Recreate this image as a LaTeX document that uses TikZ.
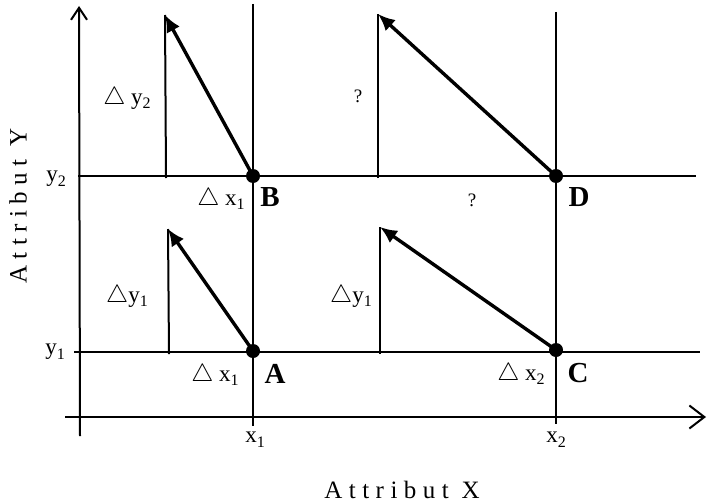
\documentclass[tikz,border=0pt]{standalone}
\usepackage{fontspec}
\setmainfont{Liberation Serif}
\usepackage{tikz}
\usetikzlibrary{arrows.meta, positioning}

\newcommand{\subidx}[1]{\raisebox{-0.45ex}{\fontsize{16}{16}\selectfont #1}}

\begin{document}
\begin{tikzpicture}[
    x=1pt, y=-1pt,
    grid/.style={line width=2pt},
    axis/.style={line width=2pt},
    point/.style={circle, fill=black, inner sep=0pt, minimum size=14pt},
    arrow/.style={-{Latex[length=17pt,width=15pt]}, line width=3.4pt, shorten <=-3pt},
    lbl/.style={font=\fontsize{23}{26}\selectfont, inner sep=0pt},
    qmark/.style={font=\fontsize{19}{22}\selectfont, inner sep=0pt},
    pname/.style={font=\fontsize{29}{32}\selectfont\bfseries, inner sep=0pt},
    atitle/.style={font=\fontsize{25}{28}\selectfont\addfontfeature{LetterSpace=26}, inner sep=0pt}
]
\useasboundingbox (0,0) rectangle (708,503);

% points
\node[point] (A) at (253,351) {};
\node[point] (B) at (253,176) {};
\node[point] (C) at (556,350) {};
\node[point] (D) at (556,176) {};

% axes and grid
\coordinate (xaxisL) at (65,417);
\coordinate (xaxisR) at (706,417);
\coordinate (yaxisB) at (80,436);
\coordinate (yaxisT) at (79,6);
\draw[axis, -{Straight Barb[length=15pt,width=23pt]}] (xaxisL) -- (xaxisR);
\draw[axis, -{Straight Barb[length=12pt,width=16pt]}] (yaxisB) -- (yaxisT);

\coordinate (y2L) at (78,176);
\coordinate (y2R) at (696,176);
\coordinate (y1L) at (74,352);
\coordinate (y1R) at (700,352);
\coordinate (x1T) at (253,4);
\coordinate (x1B) at (253,426);
\coordinate (x2T) at (556,12);
\coordinate (x2B) at (556,424);
\draw[grid] (y2L) -- (y2R);
\draw[grid] (y1L) -- (y1R);
\draw[grid] (x1T) -- (x1B);
\draw[grid] (x2T) -- (x2B);

% small verticals and vectors
\coordinate (baseB) at (166,178);
\coordinate (tipB) at (165,15);
\coordinate (baseA) at (169,354);
\coordinate (tipA) at (168,229);
\coordinate (baseD) at (378,178);
\coordinate (tipD) at (378,14);
\coordinate (baseC) at (380,354);
\coordinate (tipC) at (380,227);
\draw[grid] (baseB) -- (tipB);
\draw[grid] (baseA) -- (tipA);
\draw[grid] (baseD) -- (tipD);
\draw[grid] (baseC) -- (tipC);
\draw[arrow] (B) -- (tipB);
\draw[arrow] (A) -- (tipA);
\draw[arrow] (D) -- (tipD);
\draw[arrow] (C) -- (tipC);

% labels
\node[lbl] (dy2) at (127,98) {$\triangle$ y\subidx{2}};
\node[qmark] (q1) at (358,96) {?};
\node[lbl] (dx1top) at (221,199) {$\triangle$ x\subidx{1}};
\node[pname] (lB) at (270,197) {B};
\node[qmark] (q2) at (472,200) {?};
\node[pname] (lD) at (579,197) {D};
\node[lbl] (dy1L) at (127,296) {$\triangle$y\subidx{1}};
\node[lbl] (dy1R) at (351,296) {$\triangle$y\subidx{1}};
\node[lbl] (dx1bot) at (215,375) {$\triangle$ x\subidx{1}};
\node[pname] (lA) at (275,374) {A};
\node[lbl] (dx2) at (521,374) {$\triangle$ x\subidx{2}};
\node[pname] (lC) at (578,373) {C};

\node[lbl] (ly2) at (56,179) {y\subidx{2}};
\node[lbl] (ly1) at (55,352) {y\subidx{1}};
\node[lbl] (lx1) at (255,440) {x\subidx{1}};
\node[lbl] (lx2) at (556,440) {x\subidx{2}};

\node[atitle] (tx) at (402,490) {Attribut X};
\node[atitle, rotate=90] (ty) at (18,206) {Attribut Y};

\end{tikzpicture}
\end{document}
